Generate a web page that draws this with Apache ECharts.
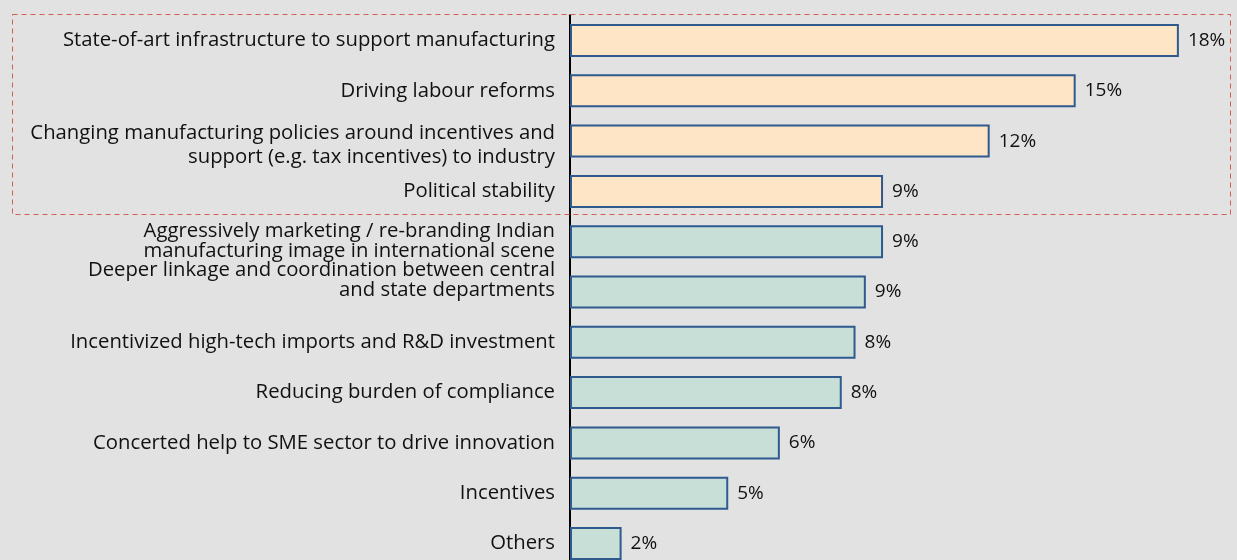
<!DOCTYPE html>
<html>
<head>
<meta charset="utf-8">
<script src="https://cdn.jsdelivr.net/npm/echarts@6/dist/echarts.min.js"></script>
<style>
  html, body { margin: 0; padding: 0; background: #e2e2e2; }
  #chart { width: 1237px; height: 560px; }
</style>
</head>
<body>
<div id="chart"></div>
<script>
// Survey responses: share of respondents (%) per policy measure
const categories = [
  'State-of-art infrastructure to support manufacturing',
  'Driving labour reforms',
  'Changing manufacturing policies around incentives and\nsupport (e.g. tax incentives) to industry',
  'Political stability',
  'Aggressively marketing / re-branding Indian\nmanufacturing image in international scene',
  'Deeper linkage and coordination between central\nand state departments',
  'Incentivized high-tech imports and R&D investment',
  'Reducing burden of compliance',
  'Concerted help to SME sector to drive innovation',
  'Incentives',
  'Others'
];
const values = [17.7, 14.7, 12.2, 9.1, 9.1, 8.6, 8.3, 7.9, 6.1, 4.6, 1.5];
// the leading items form the highlighted group inside the dashed frame
const highlightCount = 4;

const FONT = '"Open Sans"';
const LABEL_SIZE = 20.3;
const peach = '#fde5c5';
const teal = '#c8dfd8';
const edge = '#2e5a8e';

const chart = echarts.init(document.getElementById('chart'));

// a few wrapped labels sit slightly off their bar centre
function labelFormatter(value, index) {
  const lines = value.split('\n');
  if (index === 2) return '{lo|' + lines[0] + '}\n{lb|' + lines[1] + '}';
  if (index === 5) return '{n|' + lines[0] + '}\n{n|' + lines[1] + '}\n{tail|}';
  return value;
}

chart.setOption({
  backgroundColor: '#e2e2e2',
  animation: false,
  grid: { left: 570, top: 15.35, width: 688, height: 553.3, outerBoundsMode: 'none', containLabel: false },
  xAxis: { type: 'value', min: 0, max: 20, show: false },
  yAxis: {
    type: 'category',
    inverse: true,
    data: categories,
    axisLine: { show: true, lineStyle: { color: '#000', width: 2 } },
    axisTick: { show: false },
    splitLine: { show: false },
    axisLabel: {
      margin: 15,
      color: '#111',
      fontFamily: FONT,
      fontSize: LABEL_SIZE,
      lineHeight: 20,
      align: 'right',
      formatter: labelFormatter,
      rich: {
        lo: { fontFamily: FONT, fontSize: LABEL_SIZE, color: '#111', lineHeight: 32 },
        lb: { fontFamily: FONT, fontSize: LABEL_SIZE, color: '#111', lineHeight: 16 },
        n: { fontFamily: FONT, fontSize: LABEL_SIZE, color: '#111', lineHeight: 20 },
        tail: { fontFamily: FONT, fontSize: LABEL_SIZE, lineHeight: 24 }
      }
    }
  },
  series: [{
    type: 'bar',
    barWidth: 33,
    data: values.map((v, i) => ({
      value: v,
      itemStyle: { color: i < highlightCount ? peach : teal }
    })),
    itemStyle: { borderColor: edge, borderWidth: 2 },
    label: {
      show: true,
      position: 'right',
      distance: 9,
      color: '#111',
      fontFamily: FONT,
      fontSize: 19,
      formatter: p => Math.round(p.value) + '%'
    }
  }]
});

// dashed frame around the highlighted group, aligned to the category bands
const firstCenter = chart.convertToPixel({ yAxisIndex: 0 }, 0);
const bandSize = chart.convertToPixel({ yAxisIndex: 0 }, 1) - firstCenter;
const frameTop = firstCenter - bandSize / 2;
const frameBottom = chart.convertToPixel({ yAxisIndex: 0 }, highlightCount - 1) + bandSize / 2;
chart.setOption({
  graphic: [{
    type: 'rect',
    silent: true,
    z: 100,
    shape: { x: 12.5, y: Math.round(frameTop) - 0.5, width: 1218, height: Math.round(frameBottom - frameTop) - 1 },
    style: { fill: 'none', stroke: '#d0604f', lineWidth: 1, lineDash: [5, 4] }
  }]
});
</script>
</body>
</html>
